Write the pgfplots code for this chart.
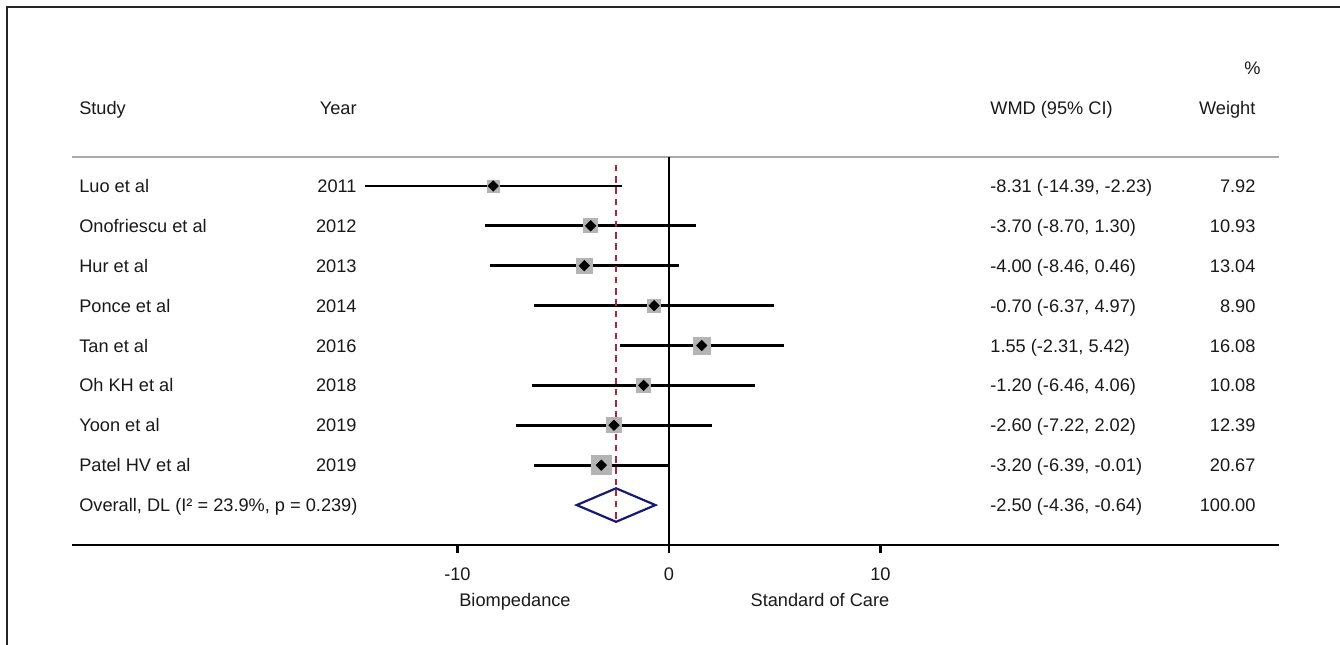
\documentclass[border=0pt]{standalone}
\usepackage{pgfplots}
\usepackage{pgfplotstable}
\usepackage{fontspec}
\setmainfont{Liberation Sans}
\pgfplotsset{compat=1.18}
\definecolor{boxgray}{RGB}{180,180,180}
\definecolor{refred}{RGB}{165,40,60}
\definecolor{navyd}{RGB}{25,25,115}
\definecolor{hdrgray}{RGB}{170,170,170}

\pgfplotstableread{
row est lo hi w
1 -8.31 -14.39 -2.23 7.92
2 -3.70 -8.70 1.30 10.93
3 -4.00 -8.46 0.46 13.04
4 -0.70 -6.37 4.97 8.90
5 1.55 -2.31 5.42 16.08
6 -1.20 -6.46 4.06 10.08
7 -2.60 -7.22 2.02 12.39
8 -3.20 -6.39 -0.01 20.67
}\studies

\begin{document}
\begin{tikzpicture}[font=\fontsize{9.1}{11}\selectfont,
  lab/.style={inner sep=0pt, yshift=-3.25pt, text=black!90}]
\begin{axis}[
  scale only axis,
  width=603.5pt, height=194pt,
  xmin=-28.23, xmax=28.84,
  ymin=-10, ymax=-0.273,
  clip=false,
  axis x line*=bottom,
  axis y line=none,
  x axis line style={line width=1.1pt, black},
  xtick={-10,0,10},
  xticklabels={-10,0,10},
  xtick align=outside,
  major tick length=4pt,
  tick style={line width=1.1pt, black},
  tick label style={font=\fontsize{9.1}{11}\selectfont},
  xticklabel style={yshift=-4pt, text=black!90},
  ytick=\empty,
]
% frame of the figure
\draw[line width=1pt, black!85] (axis cs:-31.30,-12.504) -- (axis cs:-31.30,3.486) -- (axis cs:31.73,3.486);
\coordinate (bbsw) at (axis cs:-31.63,-12.504);
\coordinate (bbne) at (axis cs:31.73,3.662);

% header rule
\addplot[hdrgray, line width=1pt, forget plot] coordinates {(-28.23,-0.273) (28.84,-0.273)};

% confidence intervals
\addplot[draw=none, mark=none, forget plot,
  error bars/.cd, x dir=both, x explicit, error mark=none,
  error bar style={draw=black, line width=1.4pt}]
  table[x=est, y expr=-\thisrow{row},
        x error minus expr=\thisrow{est}-\thisrow{lo},
        x error plus expr=\thisrow{hi}-\thisrow{est}] {\studies};

% line of no effect
\addplot[black, line width=1.1pt, forget plot] coordinates {(0,-0.273) (0,-10)};

% weight boxes
\addplot[only marks, mark=square*, scatter,
  scatter/use mapped color={draw=boxgray, fill=boxgray},
  visualization depends on={1.06*sqrt(\thisrow{w}) \as \ms},
  scatter/@pre marker code/.append style={/tikz/mark size=\ms}]
  table[x=est, y expr=-\thisrow{row}] {\studies};

% overall effect dashed line
\addplot[refred, line width=1.1pt, dash pattern=on 3.2pt off 2.4pt, forget plot]
  coordinates {(-2.50,-0.474) (-2.50,-9.37)};

% point estimates
\addplot[only marks, mark=square*, mark size=1.8pt,
  mark options={rotate=45, fill=black, draw=black}]
  table[x=est, y expr=-\thisrow{row}] {\studies};

% overall diamond
\addplot[navyd, line width=1.1pt, line join=miter, mark=none]
  coordinates {(-4.36,-9) (-2.50,-8.58) (-0.64,-9) (-2.50,-9.42)} -- cycle;

% headers
\node[lab, anchor=base west] at (axis cs:-27.90,0.955) {Study};
\node[lab, anchor=base east] at (axis cs:-14.75,0.955) {Year};
\node[lab, anchor=base west] at (axis cs:15.18,0.955) {WMD (95\% CI)};
\node[lab, anchor=base east] at (axis cs:27.75,0.955) {Weight};
\node[lab, anchor=base east] at (axis cs:27.99,1.957) {\%};

% study names
\node[lab, anchor=base west] at (axis cs:-27.90,-1) {Luo et al};
\node[lab, anchor=base west] at (axis cs:-27.90,-2) {Onofriescu et al};
\node[lab, anchor=base west] at (axis cs:-27.90,-3) {Hur et al};
\node[lab, anchor=base west] at (axis cs:-27.90,-4) {Ponce et al};
\node[lab, anchor=base west] at (axis cs:-27.90,-5) {Tan et al};
\node[lab, anchor=base west] at (axis cs:-27.90,-6) {Oh KH et al};
\node[lab, anchor=base west] at (axis cs:-27.90,-7) {Yoon et al};
\node[lab, anchor=base west] at (axis cs:-27.90,-8) {Patel HV et al};
\node[lab, anchor=base west] at (axis cs:-27.90,-9) {Overall, DL (I² = 23.9\%, p = 0.239)};

% years
\node[lab, anchor=base east] at (axis cs:-14.75,-1) {2011};
\node[lab, anchor=base east] at (axis cs:-14.75,-2) {2012};
\node[lab, anchor=base east] at (axis cs:-14.75,-3) {2013};
\node[lab, anchor=base east] at (axis cs:-14.75,-4) {2014};
\node[lab, anchor=base east] at (axis cs:-14.75,-5) {2016};
\node[lab, anchor=base east] at (axis cs:-14.75,-6) {2018};
\node[lab, anchor=base east] at (axis cs:-14.75,-7) {2019};
\node[lab, anchor=base east] at (axis cs:-14.75,-8) {2019};

% WMD (95% CI)
\node[lab, anchor=base west] at (axis cs:15.18,-1) {-8.31 (-14.39, -2.23)};
\node[lab, anchor=base west] at (axis cs:15.18,-2) {-3.70 (-8.70, 1.30)};
\node[lab, anchor=base west] at (axis cs:15.18,-3) {-4.00 (-8.46, 0.46)};
\node[lab, anchor=base west] at (axis cs:15.18,-4) {-0.70 (-6.37, 4.97)};
\node[lab, anchor=base west] at (axis cs:15.18,-5) {1.55 (-2.31, 5.42)};
\node[lab, anchor=base west] at (axis cs:15.18,-6) {-1.20 (-6.46, 4.06)};
\node[lab, anchor=base west] at (axis cs:15.18,-7) {-2.60 (-7.22, 2.02)};
\node[lab, anchor=base west] at (axis cs:15.18,-8) {-3.20 (-6.39, -0.01)};
\node[lab, anchor=base west] at (axis cs:15.18,-9) {-2.50 (-4.36, -0.64)};

% weights
\node[lab, anchor=base east] at (axis cs:27.75,-1) {7.92};
\node[lab, anchor=base east] at (axis cs:27.75,-2) {10.93};
\node[lab, anchor=base east] at (axis cs:27.75,-3) {13.04};
\node[lab, anchor=base east] at (axis cs:27.75,-4) {8.90};
\node[lab, anchor=base east] at (axis cs:27.75,-5) {16.08};
\node[lab, anchor=base east] at (axis cs:27.75,-6) {10.08};
\node[lab, anchor=base east] at (axis cs:27.75,-7) {12.39};
\node[lab, anchor=base east] at (axis cs:27.75,-8) {20.67};
\node[lab, anchor=base east] at (axis cs:27.75,-9) {100.00};

% favours labels
\node[lab, anchor=base] at (axis cs:-7.28,-11.376) {Biompedance};
\node[lab, anchor=base] at (axis cs:7.14,-11.376) {Standard of Care};
\end{axis}
\pgfresetboundingbox
\path[use as bounding box] (bbsw) rectangle (bbne);
\end{tikzpicture}
\end{document}
